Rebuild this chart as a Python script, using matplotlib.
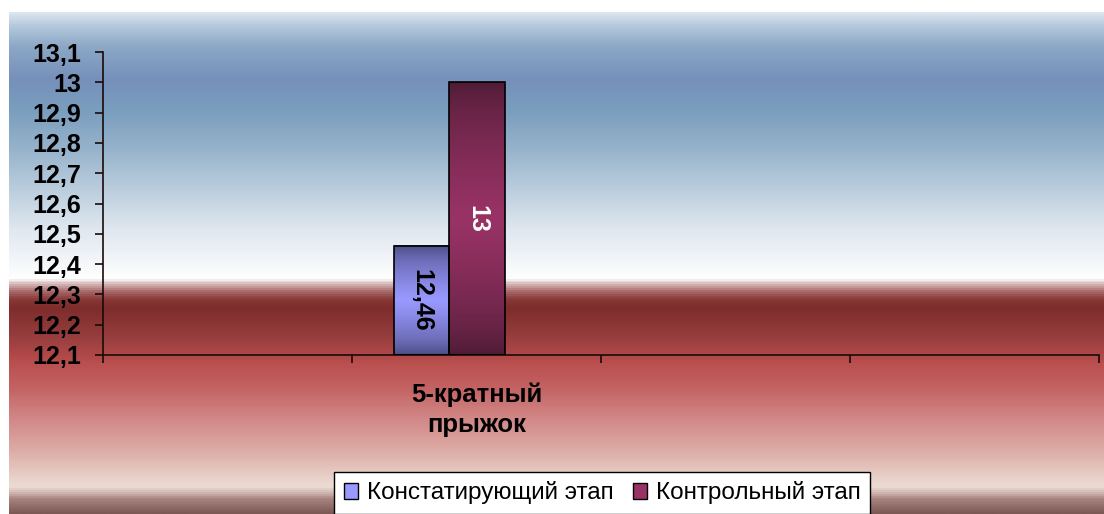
import numpy as np
import matplotlib
matplotlib.use("Agg")
import matplotlib.pyplot as plt
from matplotlib.colors import LinearSegmentedColormap
from matplotlib.ticker import FixedLocator, FuncFormatter

plt.rcParams['font.family'] = ['Liberation Sans', 'DejaVu Sans']

# данные
categories = ["", "5-кратный\nпрыжок", "", ""]
series_names = ["Констатирующий этап", "Контрольный этап"]
konst = [np.nan, 12.46, np.nan, np.nan]
kontr = [np.nan, 13.0, np.nan, np.nan]
y_ticks = [12.1, 12.2, 12.3, 12.4, 12.5, 12.6, 12.7, 12.8, 12.9, 13.0, 13.1]

ymin, ymax = 12.1, 13.1
W, H = 1104, 514
fig = plt.figure(figsize=(W / 100, H / 100), dpi=100)

# фон с градиентом
bg_stops = [(12, "#dae6f0"), (25, "#b4c8dc"), (45, "#8ca8c6"), (78, "#7690ba"),
            (110, "#7a9ebe"), (150, "#98b4cc"), (190, "#bccede"), (230, "#e0e8f0"),
            (262, "#f4f6f9"), (278, "#ffffff"), (285, "#d4b4b4"), (292, "#a86868"),
            (300, "#883838"), (308, "#7e2c2c"), (335, "#943c3c"), (355, "#b04848"),
            (365, "#ba5050"), (390, "#c46464"), (420, "#d28888"), (450, "#dcaaa4"),
            (475, "#e6ccc4"), (488, "#ecdcd4"), (494, "#d0b8b0"), (500, "#a88480"),
            (514, "#7e5a56")]
top, bot = bg_stops[0][0], bg_stops[-1][0]
bg_cmap = LinearSegmentedColormap.from_list(
    "bg", [((p - top) / (bot - top), c) for p, c in bg_stops])
bg = fig.add_axes([9 / W, 0, 1 - 9 / W, (H - top) / H])
bg.imshow(np.linspace(0, 1, 500).reshape(-1, 1), aspect="auto", cmap=bg_cmap,
          extent=[0, 1, 0, 1], origin="upper")
bg.set_axis_off()

ax = fig.add_axes([103 / W, (H - 355) / H, (1099 - 103) / W, (355 - 52) / H])
ax.patch.set_alpha(0)

pad, bw = 0.169, 0.2225
x = np.arange(len(categories))
grad = np.concatenate([np.linspace(0, 1, 100), np.linspace(1, 0, 100)]) ** 0.6
styles = [("#45457a", "#9999ff", "black"), ("#4a1a32", "#993366", "white")]

for k, vals in enumerate([konst, kontr]):
    dark, light, tcol = styles[k]
    cmap = LinearSegmentedColormap.from_list("b%d" % k, [dark, light])
    lefts = x + pad + k * bw
    heights = np.array(vals) - ymin
    bars = ax.bar(lefts, heights, bw, bottom=ymin, align="edge",
                  facecolor="none", edgecolor="black", linewidth=1.2, zorder=3)
    for b, v in zip(bars, vals):
        if np.isnan(v):
            continue
        x0, y0 = b.get_x(), b.get_y()
        ax.imshow(grad.reshape(-1, 1), aspect="auto", cmap=cmap, zorder=2,
                  extent=[x0, x0 + b.get_width(), y0, y0 + b.get_height()])
        ax.text(x0 + b.get_width() / 2, y0 + b.get_height() / 2,
                f"{v:g}".replace(".", ","), rotation=270, ha="center", va="center",
                color=tcol, fontsize=18, fontweight="bold", zorder=4)
ax.set_xlim(0, len(categories))
ax.set_ylim(ymin, ymax)

for s in ["top", "right"]:
    ax.spines[s].set_visible(False)
for s in ["left", "bottom"]:
    ax.spines[s].set_color("#1a0a0a")
    ax.spines[s].set_linewidth(1.2)

ax.yaxis.set_major_locator(FixedLocator(y_ticks))
ax.yaxis.set_major_formatter(FuncFormatter(lambda v, p: f"{round(v, 1):g}".replace(".", ",")))
ax.tick_params(axis="y", direction="out", length=6, width=1.2, pad=10,
               labelsize=18, color="#1a0a0a")
for t in ax.get_yticklabels():
    t.set_fontweight("bold")

ax.set_xticks(np.arange(len(categories) + 1))
ax.set_xticklabels([])
ax.set_xticks(x + 0.5, minor=True)
ax.set_xticklabels(categories, minor=True, fontsize=18.5, fontweight="bold", linespacing=1.3)
ax.tick_params(axis="x", which="major", direction="out", length=6, width=1.2, color="#1a0a0a")
ax.tick_params(axis="x", which="minor", length=0, pad=20)

handles = [plt.Rectangle((0, 0), 1, 1, facecolor=styles[k][1], edgecolor="black", linewidth=1)
           for k in range(2)]
leg = fig.legend(handles, series_names, loc="center", bbox_to_anchor=(602 / W, 21 / H),
                 ncol=2, fontsize=17.5, frameon=True, fancybox=False, framealpha=1,
                 edgecolor="black", handlelength=0.6, handleheight=0.6, handletextpad=0.35,
                 columnspacing=0.8, borderpad=0.4, borderaxespad=0)
leg.get_frame().set_linewidth(1)

fig.savefig("out.png", dpi=100)
